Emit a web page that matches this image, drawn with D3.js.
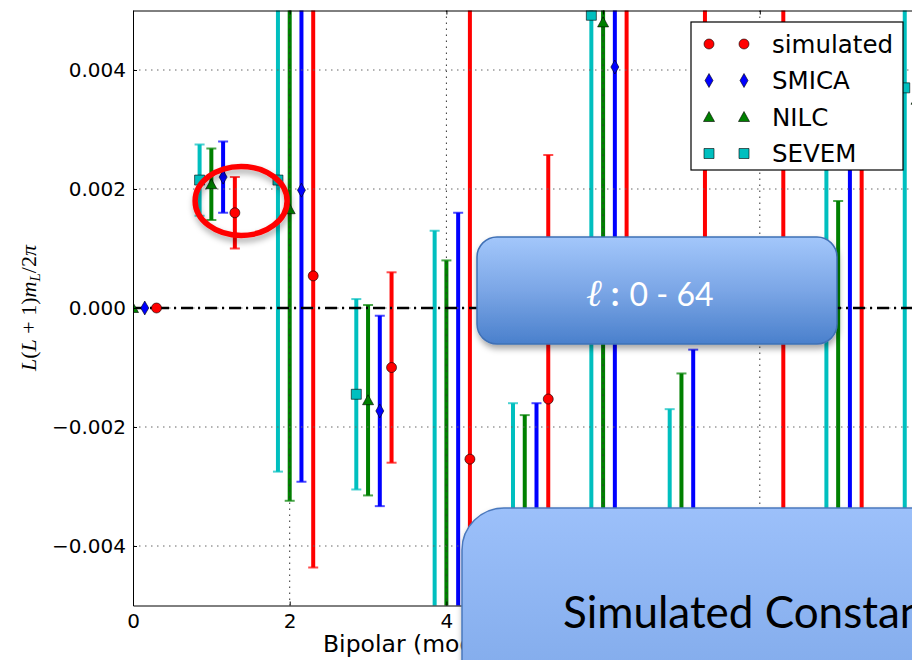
<!DOCTYPE html>
<html>
<head>
<meta charset="utf-8">
<script src="https://cdn.jsdelivr.net/npm/d3@7"></script>
<style>
body{margin:0;background:#fff;overflow:hidden;}
</style>
</head>
<body>
<div id="chart"></div>
<script>
var w=912, h=660;

// bipolar multipole L, values and 1-sigma errors
var L=[0,1,2,3,4,5,6,7,8,9,10];
var simVal=[0,0.0016,0.00054,-0.0010,-0.00254,-0.00153,0.0056,0.0062,0.0003,-0.0038,0.0];
var simErr=[0,0.0006,0.0049,0.0016,0.0085,0.0041,0.0052,0.0058,0.0095,0.0075,0.010];
var smicaVal=[0,0.0022,0.00198,-0.00173,-0.0052,-0.0045,0.00405,-0.0037,0.0003,-0.0035,0.004];
var smicaErr=[0,0.0006,0.0049,0.0016,0.0068,0.0029,0.0090,0.0030,0.0005,0.0075,0.010];
var nilcVal=[0,0.00208,0.00166,-0.00155,-0.0060,-0.0046,0.0048,-0.0040,0.0000,-0.0042,0.0035];
var nilcErr=[0,0.0006,0.0049,0.0016,0.0068,0.0028,0.0088,0.0029,0.0005,0.0060,0.010];
var sevemVal=[0,0.00215,0.00215,-0.00145,-0.0055,-0.0043,0.00492,-0.0042,0.0002,-0.0040,0.0037];
var sevemErr=[0,0.0006,0.0049,0.0016,0.0068,0.0027,0.0088,0.0025,0.0006,0.0075,0.010];

var names=["simulated","SMICA","NILC","SEVEM"];
var colors=["#ff0000","#0000ff","#008000","#00bfbf"];
var offsets=[0.3,0.15,0,-0.15];
var yTicks=[-0.004,-0.002,0,0.002,0.004];
var xTicks=[0,2,4,6,8,10];

var series=[
  {name:names[0],color:colors[0],off:offsets[0],val:simVal,err:simErr,sym:"circle"},
  {name:names[1],color:colors[1],off:offsets[1],val:smicaVal,err:smicaErr,sym:"diamond"},
  {name:names[2],color:colors[2],off:offsets[2],val:nilcVal,err:nilcErr,sym:"triangle"},
  {name:names[3],color:colors[3],off:offsets[3],val:sevemVal,err:sevemErr,sym:"square"}
];

var x=d3.scaleLinear().domain([0,12]).range([133,133+12*78.35]);
var y=d3.scaleLinear().domain([-0.005,0.005]).range([605.5,10.5]);

var svg=d3.select("#chart")
  .append("svg")
  .attr("width",w)
  .attr("height",h)
  .style("font-family","'DejaVu Sans',sans-serif");

var defs=svg.append("defs");
defs.append("clipPath").attr("id","plotclip")
  .append("rect")
  .attr("x",x(0)).attr("y",y(0.005))
  .attr("width",x(12)-x(0)).attr("height",y(-0.005)-y(0.005));
var g1=defs.append("linearGradient").attr("id","gradSmall").attr("x1",0).attr("y1",0).attr("x2",0).attr("y2",1);
g1.append("stop").attr("offset","0%").attr("stop-color","#a3c7fb");
g1.append("stop").attr("offset","50%").attr("stop-color","#7ba6e6");
g1.append("stop").attr("offset","100%").attr("stop-color","#4a80cc");
var g2=defs.append("linearGradient").attr("id","gradBig").attr("x1",0).attr("y1",0).attr("x2",0).attr("y2",1);
g2.append("stop").attr("offset","0%").attr("stop-color","#9cc0fa");
g2.append("stop").attr("offset","100%").attr("stop-color","#7ea8e9");
var sh=defs.append("filter").attr("id","shadow").attr("x","-20%").attr("y","-20%").attr("width","140%").attr("height","150%");
sh.append("feDropShadow").attr("dx",1).attr("dy",4).attr("stdDeviation",3).attr("flood-color","#000").attr("flood-opacity",0.35);

var plot=svg.append("g").attr("clip-path","url(#plotclip)");

// error bars
series.forEach(function(s){
  var gs=plot.append("g");
  L.forEach(function(l,i){
    if(s.err[i]<=0) return;
    var cx=x(l+s.off);
    gs.append("line")
      .attr("x1",cx).attr("x2",cx)
      .attr("y1",y(s.val[i]-s.err[i])).attr("y2",y(s.val[i]+s.err[i]))
      .attr("stroke",s.color).attr("stroke-width",4);
    [s.val[i]-s.err[i],s.val[i]+s.err[i]].forEach(function(v){
      gs.append("line")
        .attr("x1",cx-5).attr("x2",cx+5)
        .attr("y1",y(v)).attr("y2",y(v))
        .attr("stroke",s.color).attr("stroke-width",2).attr("stroke-opacity",0.7);
    });
  });
});

// grid
plot.selectAll(".hgrid").data(yTicks).enter().append("line")
  .attr("x1",x(0)).attr("x2",x(12))
  .attr("y1",function(d){return y(d);}).attr("y2",function(d){return y(d);})
  .attr("stroke","#666").attr("stroke-width",1).attr("stroke-dasharray","1.5,4.5");
plot.selectAll(".vgrid").data(xTicks).enter().append("line")
  .attr("x1",function(d){return x(d);}).attr("x2",function(d){return x(d);})
  .attr("y1",y(0.005)).attr("y2",y(-0.005))
  .attr("stroke","#333").attr("stroke-width",1).attr("stroke-dasharray","1.5,4.5");

// zero line
plot.append("line")
  .attr("x1",x(0)).attr("x2",x(12))
  .attr("y1",y(0)).attr("y2",y(0))
  .attr("stroke","#000").attr("stroke-width",2.5).attr("stroke-dasharray","12,5,2,5");

function symPath(t){
  if(t=="circle") return "M5,0A5,5 0 1,1 -5,0A5,5 0 1,1 5,0Z";
  if(t=="diamond") return "M0,-7L4,0L0,7L-4,0Z";
  if(t=="triangle") return "M0,-5.5L5.5,4.5L-5.5,4.5Z";
  return "M-5,-5L5,-5L5,5L-5,5Z";
}

// markers
series.forEach(function(s){
  plot.append("g").selectAll("path")
    .data(L)
    .enter()
    .append("path")
    .attr("d",symPath(s.sym))
    .attr("transform",function(l,i){return "translate("+x(l+s.off)+","+y(s.val[i])+")";})
    .attr("fill",s.color)
    .attr("stroke","#000").attr("stroke-width",0.6);
});

// axes
var fmt=d3.format(".3f");
svg.append("g")
  .attr("transform","translate("+x(0)+",0)")
  .call(d3.axisLeft(y).tickValues(yTicks).tickFormat(function(d){return d==0?"0.000":fmt(d);}).tickSizeInner(-4).tickSizeOuter(0).tickPadding(7))
  .call(function(g){g.selectAll("text").style("font-size","20px").attr("fill","#000").style("font-family","'DejaVu Sans',sans-serif");
    g.select(".domain").attr("stroke","#000");});
svg.append("g")
  .attr("transform","translate(0,"+y(-0.005)+")")
  .call(d3.axisBottom(x).tickValues(xTicks).tickFormat(d3.format("d")).tickSizeInner(-4).tickSizeOuter(0).tickPadding(8))
  .call(function(g){g.selectAll("text").style("font-size","20px").attr("fill","#000").style("font-family","'DejaVu Sans',sans-serif");
    g.select(".domain").attr("stroke","#000");});
svg.append("g")
  .attr("transform","translate(0,"+y(0.005)+")")
  .call(d3.axisTop(x).tickValues(xTicks).tickFormat("").tickSizeInner(-4).tickSizeOuter(0))
  .call(function(g){g.select(".domain").attr("stroke","#000");});

// axis labels
svg.append("text")
  .attr("x",323).attr("y",652)
  .style("font-size","23.5px")
  .text("Bipolar (modes) L");

var yl=svg.append("text")
  .attr("transform","translate(36,"+y(0)+") rotate(-90)")
  .attr("text-anchor","middle")
  .style("font-family","'Liberation Serif',serif")
  .style("font-size","22px");
yl.append("tspan").style("font-style","italic").text("L");
yl.append("tspan").text("(");
yl.append("tspan").style("font-style","italic").text("L");
yl.append("tspan").text(" + 1)");
yl.append("tspan").style("font-style","italic").text("m");
yl.append("tspan").style("font-style","italic").style("font-size","15px").attr("dy",4).text("L");
yl.append("tspan").attr("dy",-4).text("/2");
yl.append("tspan").style("font-style","italic").text("π");

// red highlight ellipse
svg.append("ellipse")
  .attr("cx",x(1.38)).attr("cy",y(0.0018))
  .attr("rx",46).attr("ry",34.5)
  .attr("fill","none").attr("stroke","#ff0000").attr("stroke-width",5.5)
  .attr("filter","url(#shadow)");

// legend
var leg=svg.append("g").attr("transform","translate(691,22)");
leg.append("rect").attr("width",212).attr("height",148).attr("fill","#fff").attr("stroke","#000").attr("stroke-width",1.2);
series.forEach(function(s,i){
  var ry=22+i*36.5;
  [18,53].forEach(function(mx){
    leg.append("path").attr("d",symPath(s.sym))
      .attr("transform","translate("+mx+","+ry+")")
      .attr("fill",s.color).attr("stroke","#000").attr("stroke-width",0.6);
  });
  leg.append("text").attr("x",81).attr("y",ry).attr("dy","0.36em")
    .style("font-size","24.5px").text(s.name);
});

// slide callouts
svg.append("rect")
  .attr("x",477).attr("y",237).attr("width",360).attr("height",107)
  .attr("rx",20).attr("ry",20)
  .attr("fill","url(#gradSmall)").attr("stroke","#3f70b5").attr("stroke-width",1.5)
  .attr("filter","url(#shadow)");
var lt=svg.append("text").attr("x",586).attr("y",306).attr("fill","#fff");
lt.append("tspan").style("font-family","'DejaVu Serif',serif").style("font-style","italic").style("font-size","38px").text("ℓ");
lt.append("tspan").attr("dx",9).style("font-family","Lato,sans-serif").style("font-weight","bold").style("font-size","34px").text(":");
lt.append("tspan").attr("dx",10).style("font-family","Lato,sans-serif").style("font-size","32px").text("0 - 64");

svg.append("rect")
  .attr("x",462).attr("y",508).attr("width",520).attr("height",200)
  .attr("rx",42).attr("ry",42)
  .attr("fill","url(#gradBig)").attr("stroke","#4a78bd").attr("stroke-width",1.5)
  .attr("filter","url(#shadow)");
svg.append("text").attr("x",563).attr("y",628)
  .style("font-family","Lato,sans-serif").style("font-size","44px").attr("fill","#000")
  .text("Simulated Constant");
</script>
</body>
</html>
